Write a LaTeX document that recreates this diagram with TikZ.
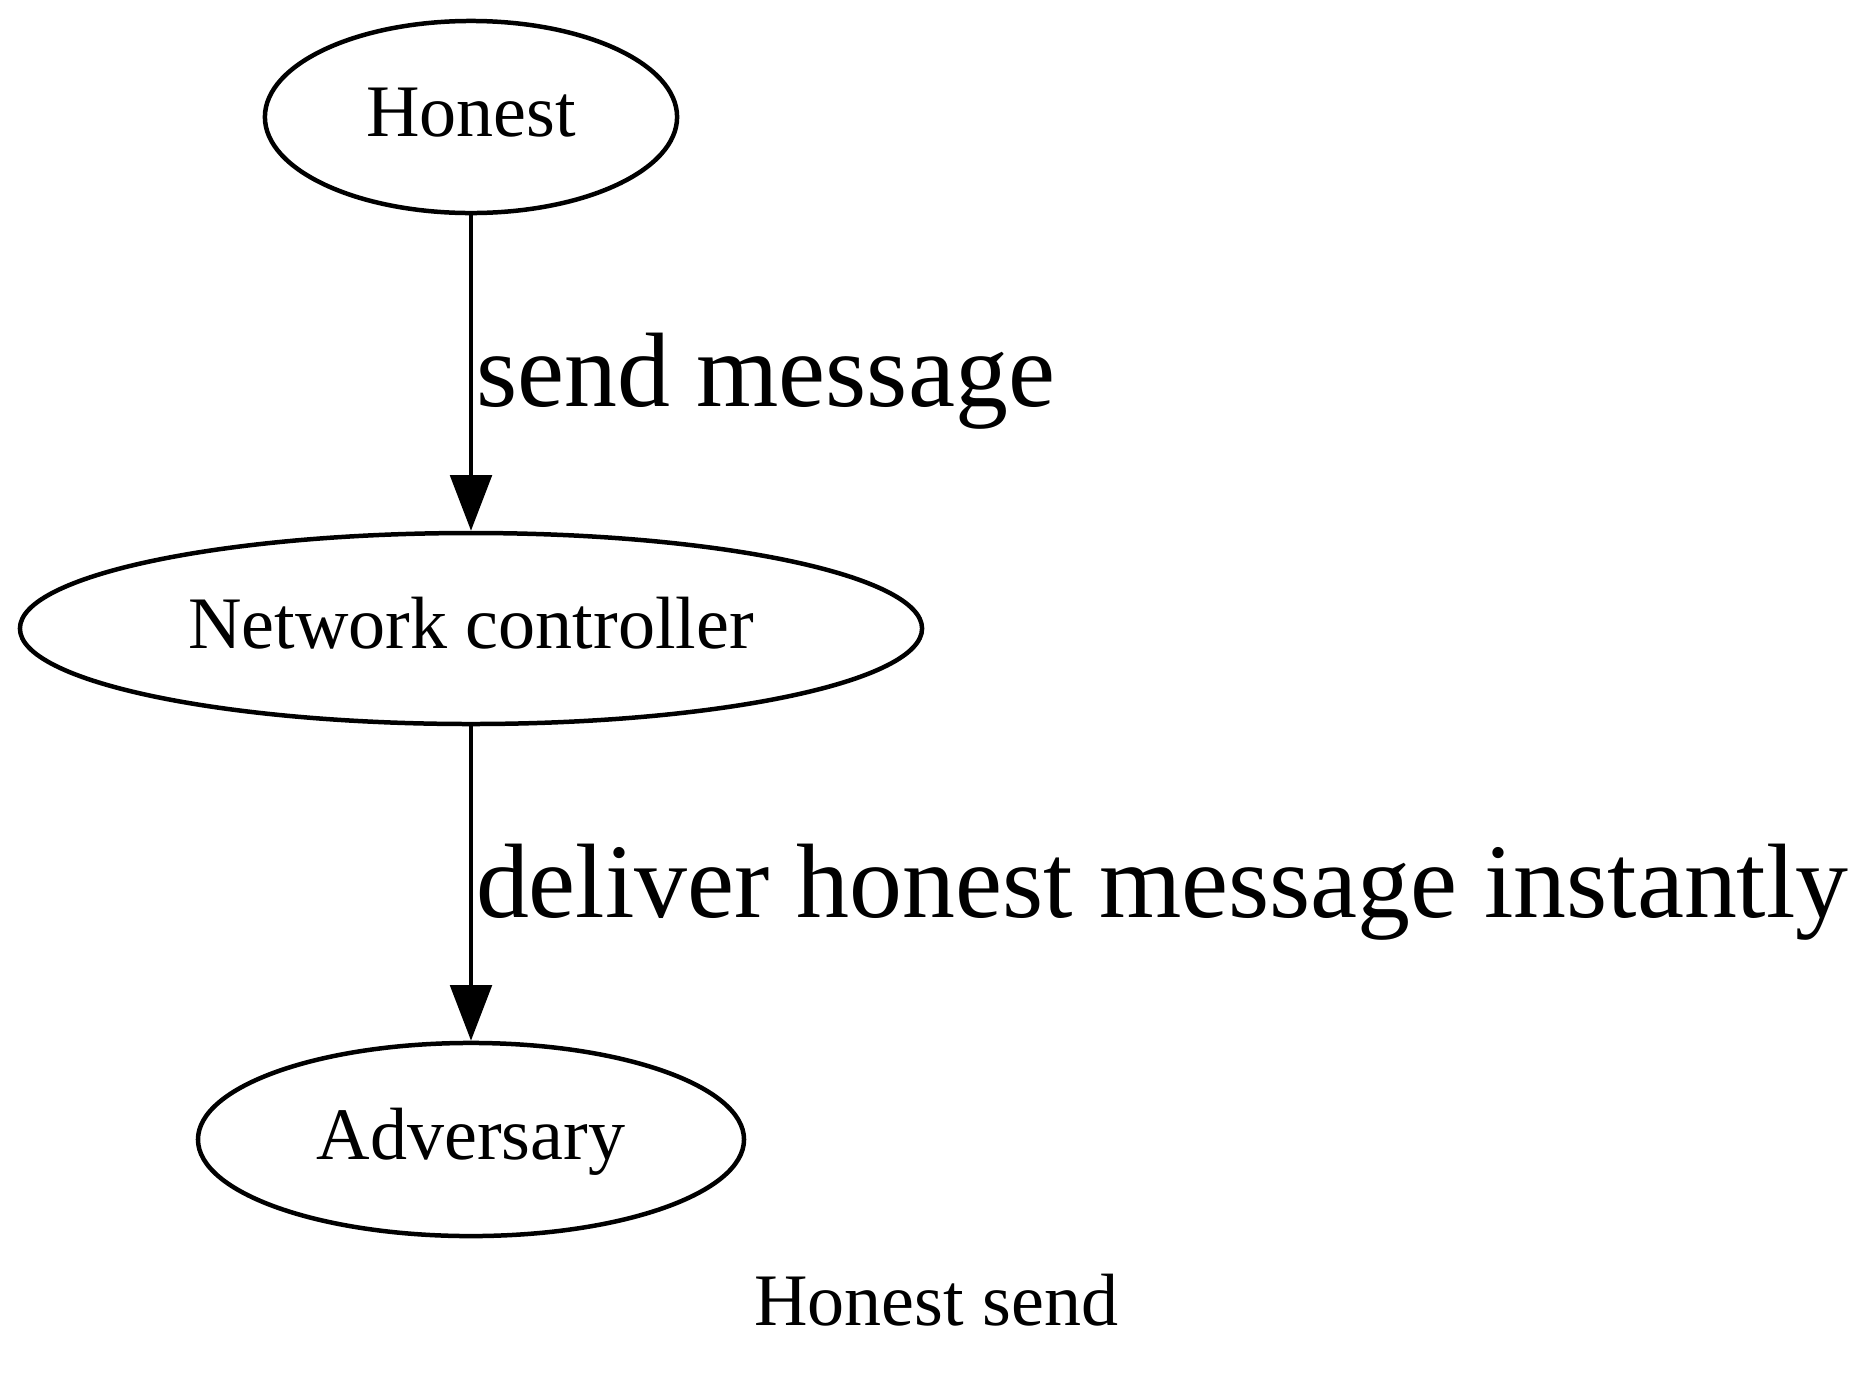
\documentclass[tikz,border=0pt]{standalone}
\usepackage{fontspec}
\setmainfont{Liberation Serif}
\usetikzlibrary{shapes.geometric,arrows.meta}
\tikzset{
  gnode/.style={draw, ellipse, line width=0.85pt, inner sep=0pt,
    font=\fontsize{14}{16}\selectfont, text height=0.74em, text depth=0pt},
  gedge/.style={draw, line width=0.85pt, -{Triangle[length=10.5pt,width=7.8pt]}},
  elabel/.style={anchor=base west, inner sep=0pt, font=\fontsize{20}{24}\selectfont},
  caption/.style={anchor=base, inner sep=0pt, font=\fontsize{14}{16}\selectfont}
}
\begin{document}
\begin{tikzpicture}[x=0.189pt, y=-0.189pt]
\useasboundingbox (0,0) rectangle (1876,1392);
\node[gnode, minimum width=77.9pt, minimum height=36.3pt] (h) at (471,117) {Honest};
\node[gnode, minimum width=170.5pt, minimum height=36.1pt] (n) at (471,628.5) {Network controller};
\node[gnode, minimum width=103.2pt, minimum height=36.5pt] (a) at (471,1139.5) {Adversary};
\draw[gedge] (h) -- (n);
\draw[gedge] (n) -- (a);
\node[elabel] (l1) at (475,406) {send message};
\node[elabel] (l2) at (475,917) {deliver honest message instantly};
\node[caption] (cap) at (936.5,1325) {Honest send};
\end{tikzpicture}
\end{document}
